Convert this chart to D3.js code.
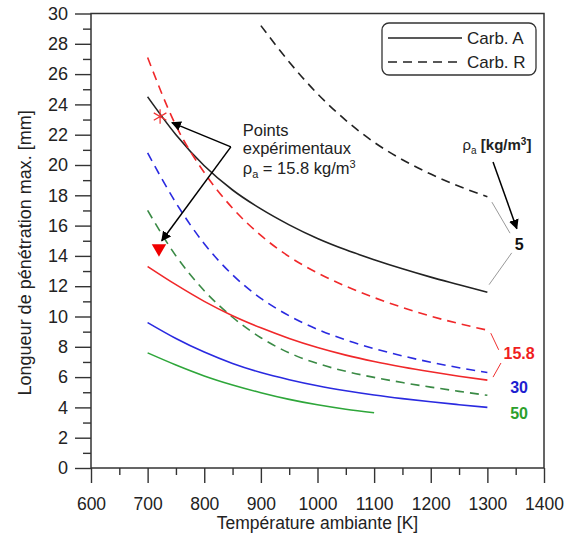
<!DOCTYPE html>
<html><head><meta charset="utf-8">
<script src="https://cdn.jsdelivr.net/npm/d3@7"></script>
<style>
body{margin:0;background:#fff;}
text{font-family:"Liberation Sans",Arial,sans-serif;}
</style></head>
<body><svg id="c" width="574" height="534"></svg>
<script>
// ---- data ----
const temps = [700,750,800,850,900,950,1000,1050,1100,1150,1200,1250,1300];
const tempsR5 = [900,950,1000,1050,1100,1150,1200,1250,1300];
const tempsA50 = [700,750,800,850,900,950,1000,1050,1100];
const carbA_5   = [24.5,22.0,19.95,18.35,17.1,16.05,15.15,14.4,13.75,13.15,12.6,12.1,11.6];
const carbA_158 = [13.3,12.1,11.0,10.05,9.25,8.55,7.95,7.45,7.03,6.67,6.35,6.06,5.8];
const carbA_30  = [9.6,8.55,7.65,6.9,6.3,5.83,5.43,5.1,4.82,4.58,4.37,4.18,4.0];
const carbA_50  = [7.6,6.8,6.08,5.48,4.97,4.53,4.17,3.88,3.65];
const carbR_5   = [29.2,26.8,24.7,22.95,21.5,20.35,19.4,18.6,17.9];
const carbR_158 = [27.1,22.6,19.5,17.15,15.35,13.95,12.88,12.0,11.25,10.6,10.02,9.53,9.1];
const carbR_30  = [20.8,17.5,14.8,12.75,11.2,10.05,9.15,8.45,7.88,7.4,6.98,6.62,6.3];
const carbR_50  = [17.0,14.0,11.7,9.95,8.6,7.6,6.9,6.38,5.98,5.64,5.34,5.06,4.8];
const expStar = {T:722, v:23.2};
const expTri  = {T:720, v:14.5};
const xTicks = [600,700,800,900,1000,1100,1200,1300,1400];
const yTicks = [0,2,4,6,8,10,12,14,16,18,20,22,24,26,28,30];
const densityLabels = ["5","15.8","30","50"];

const svg = d3.select("#c");
const x = d3.scaleLinear().domain([600,1400]).range([91,544]);
const y = d3.scaleLinear().domain([0,30]).range([468,13.5]);

const series = [
  {t:temps, v:carbA_5, c:"#222", dash:null},
  {t:tempsR5, v:carbR_5, c:"#222", dash:"9,6"},
  {t:temps, v:carbR_158, c:"#f0282a", dash:"9,6"},
  {t:temps, v:carbR_30, c:"#2a2ae0", dash:"9,6"},
  {t:temps, v:carbR_50, c:"#3a8a45", dash:"9,6"},
  {t:temps, v:carbA_158, c:"#f0282a", dash:null},
  {t:temps, v:carbA_30, c:"#2a2ae0", dash:null},
  {t:tempsA50, v:carbA_50, c:"#2ea63a", dash:null}
];
const line = d3.line().x(d=>x(d[0])).y(d=>y(d[1])).curve(d3.curveMonotoneX);

// axes
const ax = svg.append("g").attr("class","axes");
const yAx = d3.axisLeft(y).tickValues(yTicks).tickSize(16).tickSizeOuter(0).tickPadding(7).tickFormat(d3.format("d"));
const yMin = d3.axisLeft(y).tickValues(d3.range(1,30,2)).tickSize(8).tickSizeOuter(0).tickFormat("");
const xAx = d3.axisBottom(x).tickValues(xTicks).tickSize(15).tickSizeOuter(0).tickPadding(15).tickFormat(d3.format("d"));
const xMin = d3.axisBottom(x).tickValues(d3.range(650,1400,100)).tickSize(7).tickSizeOuter(0).tickFormat("");
[[yAx,"translate(91,0)",18],[yMin,"translate(91,0)",18],[xAx,"translate(0,468)",17.5],[xMin,"translate(0,468)",17.5]].forEach(([a,tr,fs])=>{
  const g = ax.append("g").attr("transform",tr).call(a);
  g.select(".domain").remove();
  g.selectAll("line").attr("stroke","#333").attr("stroke-width",1.4);
  g.selectAll("text").attr("font-size",fs).attr("fill","#222").attr("font-family","Liberation Sans, Arial, sans-serif");
});
svg.append("rect").attr("x",x(600)).attr("y",y(30)).attr("width",x(1400)-x(600)).attr("height",y(0)-y(30))
  .attr("fill","none").attr("stroke","#333").attr("stroke-width",1.5);

svg.append("text").attr("x",x(1000)).attr("y",529).attr("text-anchor","middle").attr("font-size",17.5).attr("fill","#222")
  .text("Température ambiante [K]");
svg.append("text").attr("transform","translate(31,"+y(14.2)+") rotate(-90)").attr("text-anchor","middle").attr("font-size",18).attr("fill","#222")
  .text("Longueur de pénétration max. [mm]");

// curves
svg.append("g").selectAll("path").data(series).join("path")
  .attr("d",s=>line(s.t.map((t,i)=>[t,s.v[i]])))
  .attr("fill","none").attr("stroke",s=>s.c).attr("stroke-width",1.6)
  .attr("stroke-dasharray",s=>s.dash);

// markers
svg.append("path").attr("transform",`translate(${x(expStar.T)},${y(expStar.v)})`)
  .attr("d",d3.symbol(d3.symbolAsterisk,150)()).attr("stroke","#f03030").attr("stroke-width",1.2).attr("fill","none");
svg.append("path").attr("transform",`translate(${x(expTri.T)},${y(expTri.v)}) rotate(180)`)
  .attr("d",d3.symbol(d3.symbolTriangle,90)()).attr("fill","#f00000");

// arrow defs
const defs = svg.append("defs");
defs.append("marker").attr("id","ah").attr("viewBox","0 0 10 10").attr("refX",9).attr("refY",5)
  .attr("markerWidth",10).attr("markerHeight",10).attr("markerUnits","userSpaceOnUse").attr("orient","auto")
  .append("path").attr("d","M0,0 L10,5 L0,10 Z").attr("fill","#000");

function seg(t1,v1,t2,v2,col,w,arrow){
  const l = svg.append("line").attr("x1",x(t1)).attr("y1",y(v1)).attr("x2",x(t2)).attr("y2",y(v2))
    .attr("stroke",col).attr("stroke-width",w);
  if(arrow) l.attr("marker-end","url(#ah)");
}
// annotation arrows
seg(847,21.2,743,22.8,"#000",1.5,true);
seg(847,21.2,725,15.0,"#000",1.5,true);
const ann = svg.append("text").attr("font-size",16.5).attr("fill","#222");
ann.append("tspan").attr("x",x(868)).attr("y",y(22.3)+6).text("Points");
ann.append("tspan").attr("x",x(868)).attr("y",y(21.1)+6).text("expérimentaux");
ann.append("tspan").attr("x",x(868)).attr("y",y(19.8)+6).text("ρ");
ann.append("tspan").attr("font-size",11).attr("dy",4).text("a");
ann.append("tspan").attr("dy",-4).text(" = 15.8 kg/m");
ann.append("tspan").attr("font-size",11).attr("dy",-6).text("3");

// connectors
seg(1308,17.55,1340,15.5,"#999",1,false);
seg(1343,14.2,1303,12.1,"#999",1,false);
seg(1306,8.9,1320,7.8,"#f03030",1,false);
seg(1324,6.93,1310,6.0,"#f03030",1,false);
seg(1310,20.2,1352,15.8,"#000",1.5,true);

// rho label
const rho = svg.append("text").attr("x",x(1317)).attr("y",y(21.3)+5).attr("text-anchor","middle").attr("font-size",15).attr("fill","#222").attr("font-weight","bold");
rho.append("tspan").attr("font-weight","normal").text("ρ");
rho.append("tspan").attr("font-size",10).attr("dy",4).attr("font-weight","normal").text("a");
rho.append("tspan").attr("dy",-4).text(" [kg/m");
rho.append("tspan").attr("font-size",10).attr("dy",-5).text("3");
rho.append("tspan").attr("dy",5).text("]");

// density labels
const lab = [{v:14.8,c:"#111"},{v:7.6,c:"#f01e1e"},{v:5.35,c:"#1e1ed0"},{v:3.63,c:"#2ca02c"}];
svg.append("g").selectAll("text").data(densityLabels).join("text")
  .attr("x",x(1356)).attr("y",(d,i)=>y(lab[i].v)+6).attr("text-anchor","middle")
  .attr("font-size",16).attr("font-weight","bold").attr("fill",(d,i)=>lab[i].c).text(d=>d);

// legend
svg.append("rect").attr("x",382).attr("y",23).attr("width",154).attr("height",52).attr("rx",7)
  .attr("fill","#fff").attr("stroke","#333").attr("stroke-width",1.3);
svg.append("line").attr("x1",388).attr("x2",462).attr("y1",38).attr("y2",38).attr("stroke","#222").attr("stroke-width",1.6);
svg.append("line").attr("x1",388).attr("x2",462).attr("y1",62).attr("y2",62).attr("stroke","#222").attr("stroke-width",1.6).attr("stroke-dasharray","9,6");
svg.append("text").attr("x",467).attr("y",44).attr("font-size",17).attr("fill","#222").text("Carb. A");
svg.append("text").attr("x",467).attr("y",68).attr("font-size",17).attr("fill","#222").text("Carb. R");
</script></body></html>
